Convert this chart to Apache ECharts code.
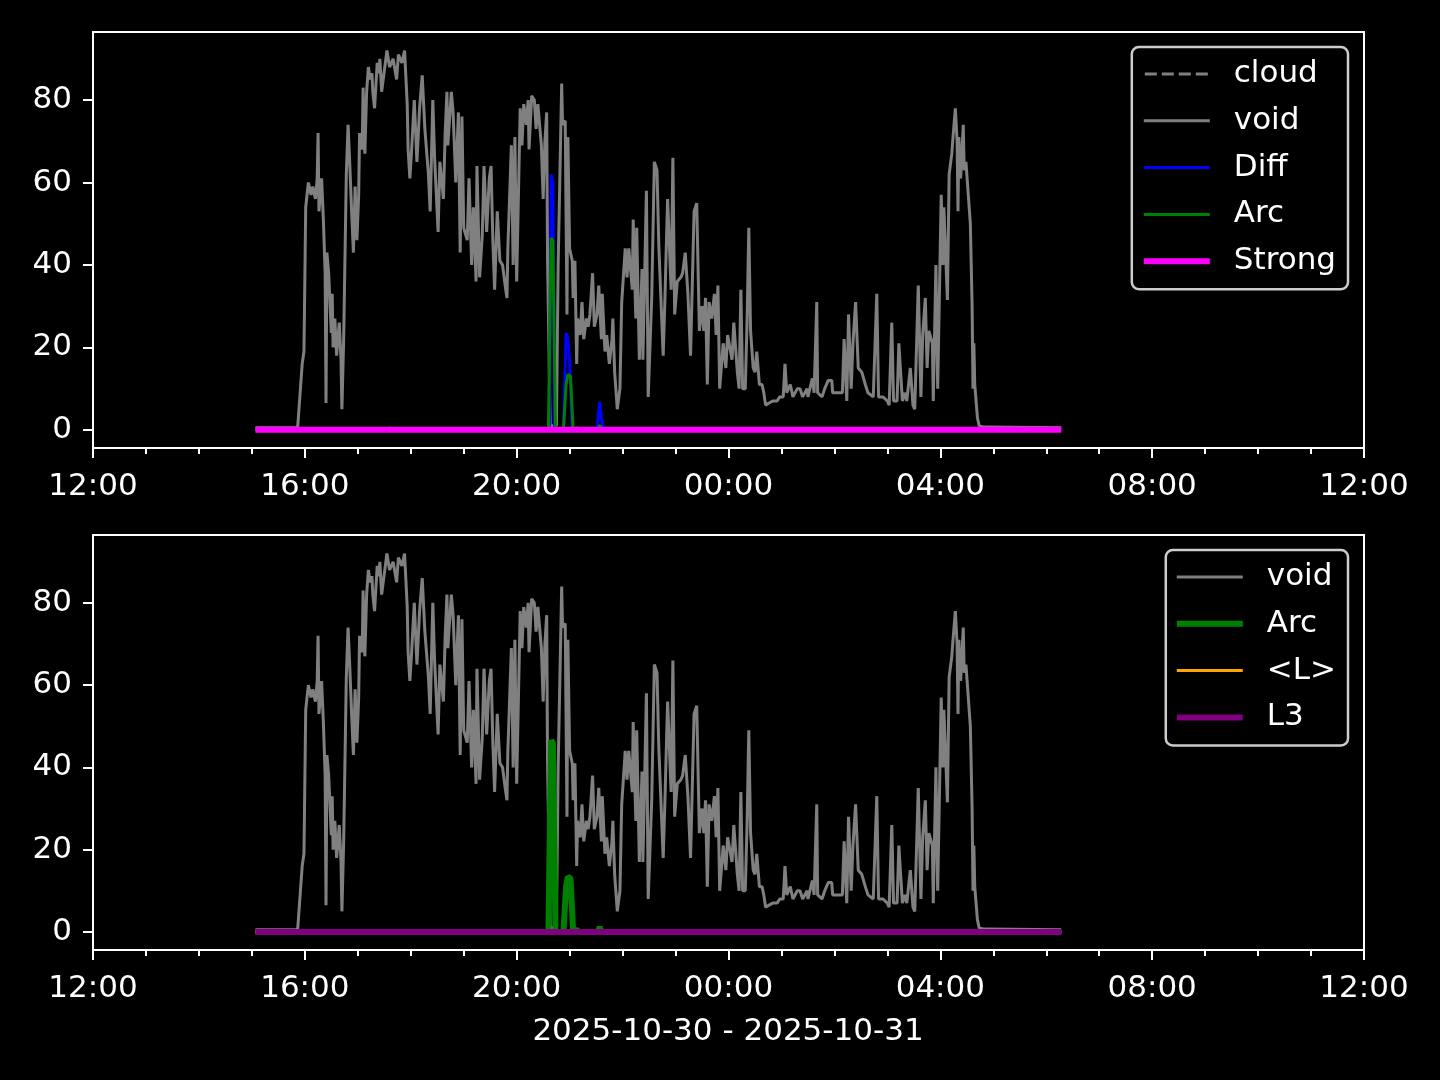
<!DOCTYPE html>
<html>
<head>
<meta charset="utf-8">
<script src="https://cdn.jsdelivr.net/npm/echarts@6/dist/echarts.min.js"></script>
<style>
html,body{margin:0;padding:0;background:#000;}
#chart{width:1440px;height:1080px;}
</style>
</head>
<body>
<div id="chart"></div>
<script>
// ---- data (time = minutes after 12:00 on 2025-10-30) ----
const tickLabels = ["12:00", "16:00", "20:00", "00:00", "04:00", "08:00", "12:00"];
const yTicks = [0, 20, 40, 60, 80];
const xAxisTitle = "2025-10-30 - 2025-10-31";

const voidPoints = [
  [184,0.5],[231,0.5],[232,1],[237,16],[239,19],[241,54],[244,60],[247,57],[249,59],[252,56],
  [254,61],[255,72],[256,53],[259,61],[261,51],[263,38],[264,6.5],[265,43],[267,38],[270,23.5],
  [271,33],[272,20],[274,27],[276,18],[279,26],[281,17],[282,5],[284,22],[287,62],[289,74],
  [291,64],[293,53],[295,43],[297,59],[299,46],[301,57],[302,72],[305,68],[306,83],[308,67],
  [310,82],[312,88],[314,85],[316,86.5],[317,82],[319,78],[322,89],[324,86.5],[325,90],[327,82],
  [333,92],[336,88],[340,90],[344,85],[346,91],[350,89],[353,92],[356,79],[357,68],[359,61],
  [361,68],[364,80],[367,65],[370,78],[373,86],[376,73],[380,62],[382,53],[385,80],[387,66],
  [391,48],[393,65],[397,56],[399,72],[401,82],[402,69],[406,82],[408,77],[411,60],[414,77],
  [416,43],[418,76],[420,49],[424,46],[426,61],[429,40],[431,54],[434,36],[435,64],[438,37],
  [441,47],[443,64],[446,48],[449,61],[451,64],[453,46],[455,34],[458,53],[461,41],[464,40],
  [467,35],[469,32],[470,44],[474,69],[476,40],[478,71],[480,36],[484,78],[486,69],[488,79],
  [491,74],[493,80],[494,68],[497,81],[500,80],[502,73],[504,79],[508,69],[510,56],[512,70],
  [514,77],[515,41],[518,1],[525,1],[527,40],[531,84],[532,74],[535,75],[537,28],[538,71],
  [540,44],[543,41],[544,32],[546,41],[548,16],[549,27],[552,23],[554,31],[556,22],[559,27],
  [561,25],[563,28],[566,38],[568,25],[571,28],[573,35],[576,22],[577,33],[580,19],[582,23],
  [585,16],[588,22],[589,27],[591,14],[594,5],[597,10],[599,31],[603,44],[605,37],[607,44],
  [611,34],[612,51],[615,27],[616,49],[619,17],[622,39],[623,17],[627,58],[629,8],[633,32],
  [636,65],[639,63],[641,45],[646,18],[648,32],[651,56],[655,34],[657,66],[659,28],[662,36],
  [666,37],[668,38],[671,43],[674,33],[677,18],[681,53],[684,55],[687,24],[690,30],[692,24],
  [694,32],[696,11],[698,31],[701,27],[704,33],[706,23],[708,35],[710,10],[714,21],[717,15],
  [719,23],[724,17],[726,26],[730,14],[732,10],[734,34],[736,10],[739,10],[741,26],[743,49],
  [745,24],[748,15],[750,14],[752,19],[755,11],[758,11],[760,9],[762,6],[766,6.5],[770,7],
  [775,7],[778,8],[782,8],[784,16],[786,9],[790,11],[793,8],[798,10],[801,10],[804,8],
  [809,10],[810,8],[815,12.5],[817,9],[820,31],[821,9],[826,8],[829,10],[833,12],[837,12],
  [838,9],[844,9],[849,9],[851,22],[854,7],[856,28],[859,10],[861,21],[864,31],[867,15],
  [871,14],[875,11],[878,9],[884,8],[888,33],[890,8],[895,8],[900,7],[902,6],[905,26],
  [907,7],[911,7],[913,21],[917,7],[920,9],[922,7],[926,15],[929,6],[931,5],[935,35],
  [938,8],[940,23],[943,32],[945,15],[947,24],[951,21],[952,7],[955,40],[957,10],[961,57],
  [963,40],[964,54],[968,31.5],[970,62],[973,67],[974,70],[977,78],[979,70],[980,53],[981,71],
  [983,61],[986,74],[987,63],[989,65],[991,65],[994,50],[996,30],[997,10],[998,21],[999,11],
  [1002,3],[1004,1],[1008,0.7],[1013,0.7],[1097,0.5]
];
const diffPoints = [
  [184,0],[335,0],[336,0.8],[337,0],[517,0],[519,62],[521,60],[523,0],
  [533,0],[536,23.5],[538,22],[540,17],[543,0],[571,0],[574,6.8],[576,3],[578,0],[1097,0]
];
const arcPoints = [
  [184,0],[516,0],[519,46.5],[521,46],[524,0],[533,0],[536,11],[538,13.4],[541,13],[544,0],
  [546,0],[548,0.6],[550,0],[572,0],[574,1.2],[576,0],[1097,0]
];
const cloudPoints = [[184,0],[1097,0]];
const strongPoints = [[184,0],[1097,0]];
const meanLPoints = [[184,0],[1097,0]];
const l3Points = [[184,0],[1097,0]];

// ---- chart ----
const FONT = 'DejaVu Sans';
const chart = echarts.init(document.getElementById('chart'), null, {renderer: 'canvas'});

// legend glyphs (66 x 14 box; the two leading moves fix the box size)
const ICON_THIN = 'path://M0,0M66,14M0,5.5H66V8.5H0Z';
const ICON_THICK = 'path://M0,0M66,14M0,4H66V10H0Z';
const ICON_DASH = 'path://M0,0M66,14M1,5.5h12v3h-12ZM18,5.5h12v3h-12ZM35,5.5h12v3h-12ZM52,5.5h12v3h-12Z';

function makeX(gi) {
  return {
    type: 'value', gridIndex: gi, min: 0, max: 1440, interval: 240,
    axisLine: {show: true, onZero: false, lineStyle: {color: '#fff', width: 2}},
    axisTick: {show: true, length: 10, lineStyle: {color: '#fff', width: 2}},
    minorTick: {show: true, splitNumber: 4, length: 6, lineStyle: {color: '#fff', width: 2}},
    axisLabel: {color: '#fff', fontSize: 31, fontFamily: FONT, margin: 23,
      showMinLabel: true, showMaxLabel: true,
      formatter: v => tickLabels[Math.round(v / 240)]},
    splitLine: {show: false}, minorSplitLine: {show: false}
  };
}
function makeY(gi) {
  return {
    type: 'value', gridIndex: gi, min: -4.4, max: 96.5,
    axisLine: {show: true, onZero: false, lineStyle: {color: '#fff', width: 2}},
    axisTick: {show: true, length: 10, customValues: yTicks, lineStyle: {color: '#fff', width: 2}},
    axisLabel: {color: '#fff', fontSize: 31, fontFamily: FONT, margin: 21, padding: [4, 0, 0, 0], customValues: yTicks},
    splitLine: {show: false}
  };
}
function line(name, data, gi, color, width, type) {
  return {
    name, type: 'line', xAxisIndex: gi, yAxisIndex: gi, data,
    symbol: 'none', showSymbol: false, animation: false,
    lineStyle: {color, width, type: type || 'solid'},
    itemStyle: {color},
    emphasis: {disabled: true}
  };
}
const legendCommon = {
  orient: 'vertical', itemWidth: 66, itemHeight: 14, itemGap: 10.8,
  backgroundColor: '#000', borderColor: '#cccccc', borderWidth: 2.5, borderRadius: 7,
  textStyle: {color: '#fff', fontSize: 31, fontFamily: FONT, lineHeight: 36, padding: [0, 0, 0, 19]},
  formatter: n => n.trim(),
  selectedMode: false
};

chart.setOption({
  backgroundColor: '#000',
  animation: false,
  grid: [
    {left: 93, right: 76, top: 32, height: 416, show: true, borderColor: '#fff', borderWidth: 2, backgroundColor: '#000'},
    {left: 93, right: 76, top: 535, height: 415, show: true, borderColor: '#fff', borderWidth: 2, backgroundColor: '#000'}
  ],
  xAxis: [makeX(0), makeX(1)],
  yAxis: [makeY(0), makeY(1)],
  legend: [
    Object.assign({}, legendCommon, {top: 47, right: 92, padding: [9, 12, 10, 12],
      data: [
        {name: 'cloud', icon: ICON_DASH},
        {name: 'void', icon: ICON_THIN},
        {name: 'Diff', icon: ICON_THIN},
        {name: 'Arc', icon: ICON_THIN},
        {name: 'Strong', icon: ICON_THICK}
      ]}),
    Object.assign({}, legendCommon, {top: 550, right: 92, padding: [9, 12, 10, 11],
      data: [
        {name: 'void ', icon: ICON_THIN},
        {name: 'Arc ', icon: ICON_THICK},
        {name: '<L> ', icon: ICON_THIN},
        {name: 'L3 ', icon: ICON_THICK}
      ]})
  ],
  series: [
    line('cloud', cloudPoints, 0, '#808080', 3, 'dashed'),
    line('void', voidPoints, 0, '#808080', 3),
    line('Diff', diffPoints, 0, '#0000ff', 3),
    line('Arc', arcPoints, 0, '#008000', 3),
    line('Strong', strongPoints, 0, '#ff00ff', 6),
    line('void ', voidPoints, 1, '#808080', 3),
    line('Arc ', arcPoints, 1, '#008000', 6),
    line('<L> ', meanLPoints, 1, '#ffa500', 3),
    line('L3 ', l3Points, 1, '#800080', 6)
  ],
  graphic: [{
    type: 'text', x: 728, y: 1032,
    style: {text: xAxisTitle, fill: '#fff', fontSize: 31, fontFamily: FONT, align: 'center', verticalAlign: 'middle'}
  }]
});
</script>
</body>
</html>
